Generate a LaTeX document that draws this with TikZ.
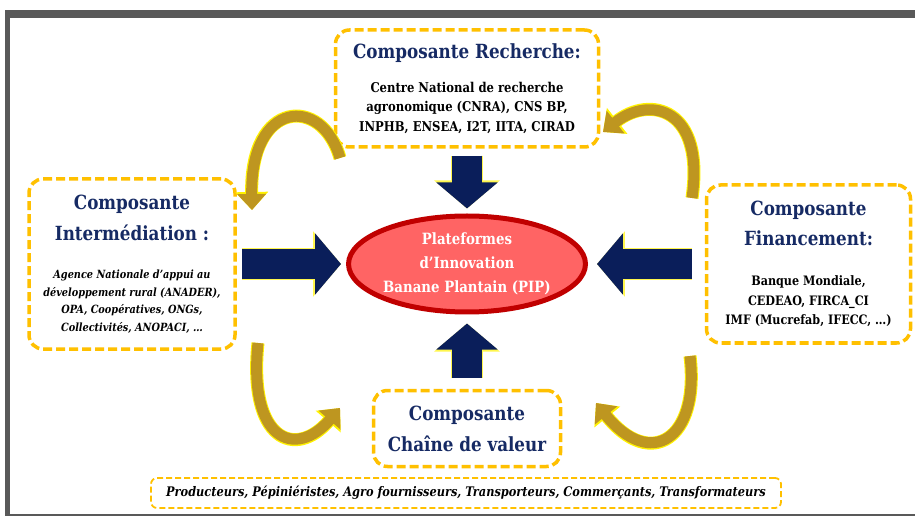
\documentclass[tikz,border=0pt]{standalone}
\usepackage{fontspec}
\setmainfont{DejaVu Serif}[FakeStretch=0.86]
\usetikzlibrary{positioning}
\usetikzlibrary{arrows.meta}
\usetikzlibrary{shapes}

\definecolor{navytitle}{RGB}{22,42,100}
\definecolor{navyarrow}{RGB}{10,30,90}
\definecolor{goldbox}{RGB}{255,192,0}
\definecolor{goldarrow}{RGB}{190,150,32}
\definecolor{pipfill}{RGB}{255,100,100}
\definecolor{pipborder}{RGB}{192,0,0}
\definecolor{framegray}{RGB}{89,89,89}

\newcommand{\titlestyle}{\fontsize{19.5}{22}\selectfont\bfseries\upshape\color{navytitle}}
\newcommand{\bodystyle}{\fontsize{13.5}{19.5}\selectfont\bfseries}
\newcommand{\bodyitstyle}{\fontsize{11.3}{17.5}\selectfont\bfseries\itshape}

\tikzset{
        % Component boxes
        box_component/.style={draw=goldbox, line width=3.5pt, dash pattern=on 9pt off 4pt, rounded corners=14pt, fill=white, align=center, inner sep=0pt},
        % Value chain actors
        box_actors/.style={draw=goldbox, line width=1.8pt, dash pattern=on 6pt off 3pt, rounded corners=6pt, align=center, inner sep=0pt},
        % Central platform
        node_pip/.style={ellipse, draw=pipborder, line width=5pt, fill=pipfill, align=center, text=white, inner sep=0pt, minimum width=236pt, minimum height=96pt},
        % Straight block arrows
        arrow_block/.style={line width=30pt, draw=navyarrow, -{Triangle[length=26pt,width=60pt]}, preaction={draw=yellow!70!white, line width=32pt, -{Triangle[length=28pt,width=64pt]}}},
        % Curved arrows
        arrow_curved/.style={line width=11pt, draw=goldarrow, -{Triangle[length=16pt,width=28pt]}, preaction={draw=yellow, line width=13pt, -{Triangle[length=18pt,width=32pt]}}}
}

\begin{document}
\begin{tikzpicture}[x=1pt, y=-1pt]
    \useasboundingbox (0,0) rectangle (915,518);
    % frame
    \fill[framegray] (5,10) rectangle (915,18);
    \fill[framegray] (5,10) rectangle (10,516);
    \fill[framegray] (5,514) rectangle (915,516);

    \node[box_component, minimum width=263pt, minimum height=117pt, font=\bodystyle] (research) at (467,88.5)
        {{\titlestyle Composante Recherche:}\\[14pt]
         Centre National de recherche\\
         agronomique (CNRA), CNS BP,\\
         INPHB, ENSEA, I2T, IITA, CIRAD};
    \node[box_component, minimum width=206pt, minimum height=170pt, font=\bodyitstyle] (interm) at (132,264)
        {{\titlestyle Composante}\\[10pt]
         {\titlestyle Intermédiation :}\\[21pt]
         Agence Nationale d’appui au\\
         développement rural (ANADER),\\
         OPA, Coopératives, ONGs,\\
         Collectivités, ANOPACI, \dots};
    \node[box_component, minimum width=204pt, minimum height=158pt, font=\fontsize{13}{19.5}\selectfont\bfseries] (finance) at (808.5,264)
        {{\titlestyle Composante}\\[10pt]
         {\titlestyle Financement:}\\[21pt]
         Banque Mondiale,\\
         CEDEAO, FIRCA\_CI\\
         IMF (Mucrefab, IFECC, \dots)};
    \node[box_component, minimum width=187pt, minimum height=76pt, font=\titlestyle] (chain) at (467,428.5)
        {Composante\\[9pt]
         Chaîne de valeur};
    \node[box_actors, minimum width=630pt, minimum height=30pt, font=\fontsize{13.2}{16}\selectfont\bfseries\itshape] (actors) at (466,493)
        {Producteurs, Pépiniéristes, Agro fournisseurs, Transporteurs, Commerçants, Transformateurs};
    \node[node_pip, font=\fontsize{15.5}{24}\selectfont\bfseries] (pip) at (467,264)
        {Plateformes\\
         d’Innovation\\
         Banane Plantain (PIP)};

    % block arrows towards the platform
    \draw[arrow_block, shorten <=7pt, shorten >=5pt] (research.south) -- (pip.north);
    \draw[arrow_block, shorten <=11pt, shorten >=9pt] (chain.north) -- (pip.south);
    \draw[arrow_block, shorten <=5pt, shorten >=5pt] (interm.east) -- (pip.west);
    \draw[arrow_block, shorten <=13pt, shorten >=9pt] (finance.west) -- (pip.east);

    % curved arrows between components
    \coordinate (tl_tail) at (340,158);
    \coordinate (tl_head) at (252,210);
    \coordinate (tr_tail) at (692,198);
    \coordinate (tr_head) at (603,132);
    \coordinate (bl_tail) at (258,343);
    \coordinate (bl_head) at (340,408);
    \coordinate (br_tail) at (690,356);
    \coordinate (br_head) at (596,403);
    \draw[arrow_curved] (tl_tail) .. controls (322,95) and (250,100) .. (tl_head);
    \draw[arrow_curved] (tr_tail) .. controls (705,108) and (650,95) .. (tr_head);
    \draw[arrow_curved] (bl_tail) .. controls (248,440) and (295,460) .. (bl_head);
    \draw[arrow_curved] (br_tail) .. controls (700,440) and (650,470) .. (br_head);
\end{tikzpicture}
\end{document}
